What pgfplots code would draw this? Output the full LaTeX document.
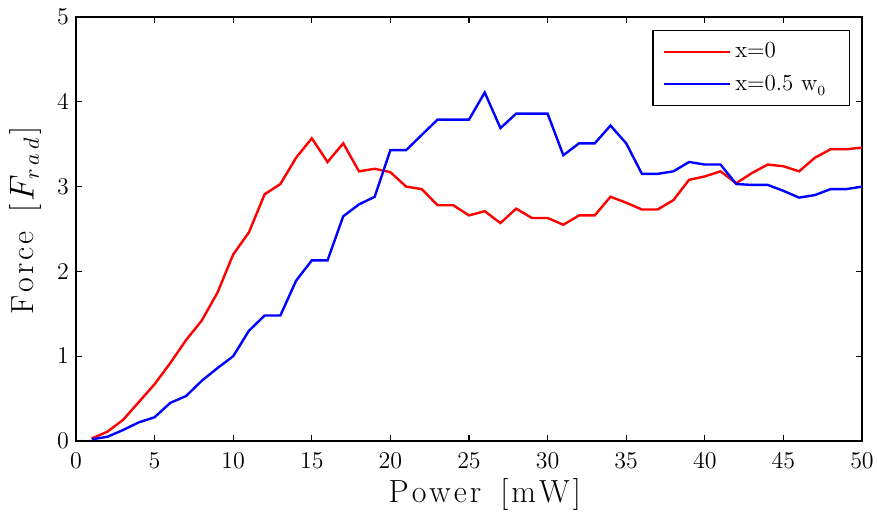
\documentclass[border=0pt]{standalone}
\usepackage{pgfplots}
\pgfplotsset{compat=1.18}

\pgfplotstableread{
P F
1 0.03
2 0.11
3 0.25
4 0.46
5 0.67
6 0.92
7 1.19
8 1.42
9 1.75
10 2.20
11 2.46
12 2.91
13 3.03
14 3.34
15 3.57
16 3.29
17 3.51
18 3.18
19 3.21
20 3.17
21 3.00
22 2.97
23 2.78
24 2.78
25 2.66
26 2.71
27 2.57
28 2.74
29 2.63
30 2.63
31 2.55
32 2.66
33 2.66
34 2.88
35 2.81
36 2.73
37 2.73
38 2.84
39 3.08
40 3.12
41 3.18
42 3.04
43 3.16
44 3.26
45 3.24
46 3.18
47 3.34
48 3.44
49 3.44
50 3.46
}\centre

\pgfplotstableread{
P F
1 0.02
2 0.05
3 0.13
4 0.22
5 0.28
6 0.45
7 0.53
8 0.71
9 0.86
10 1.00
11 1.30
12 1.48
13 1.48
14 1.89
15 2.13
16 2.13
17 2.65
18 2.79
19 2.88
20 3.43
21 3.43
22 3.61
23 3.79
24 3.79
25 3.79
26 4.11
27 3.69
28 3.86
29 3.86
30 3.86
31 3.37
32 3.51
33 3.51
34 3.72
35 3.51
36 3.15
37 3.15
38 3.18
39 3.29
40 3.26
41 3.26
42 3.03
43 3.02
44 3.02
45 2.95
46 2.87
47 2.90
48 2.97
49 2.97
50 3.00
}\offcentre

\begin{document}
\begin{tikzpicture}

\begin{axis}[
    scale only axis,
    width=393pt,
    height=212pt,
    xmin=0, xmax=50,
    ymin=0, ymax=5,
    xtick={0,5,...,50},
    ytick={0,1,...,5},
    axis line style={line width=0.8pt},
    tick style={line width=0.6pt, black},
    major tick length=3pt,
    tick label style={font=\fontsize{12.5}{14}\selectfont},
    xticklabel style={yshift=-2.5pt},
    every axis x label/.style={at={(axis description cs:0.52,-0.127)}, anchor=center},
    every axis y label/.style={at={(axis description cs:-0.064,0.52)}, rotate=90, anchor=center},
    label style={font=\fontsize{16}{19}\selectfont},
    xlabel={P\kern1.5pt o\kern1.5pt w\kern1.5pt e\kern1.5pt r\ \ [\kern1.5pt m\kern1.5pt W\kern1.5pt ]},
    ylabel={F\kern1.5pt o\kern1.5pt r\kern1.5pt c\kern1.5pt e\ \ [\kern1.5pt$F_{r\,a\,d}$\kern1.5pt ]},
    legend style={at={(1,1)}, anchor=north east, xshift=-6pt, yshift=-6.5pt,
        draw=black, line width=0.7pt, font=\fontsize{11.5}{13}\selectfont,
        inner xsep=5pt, inner ysep=4pt, row sep=3pt},
    legend cell align=left,
    legend image code/.code={\draw[#1, line width=1.2pt] (0pt,0pt) -- (33pt,0pt);},
]

\addplot[red, line width=1.2pt] table[x=P, y=F] {\centre};
\addlegendentry{\makebox[50pt][l]{x=0}}

\addplot[blue, line width=1.2pt] table[x=P, y=F] {\offcentre};
\addlegendentry{\makebox[50pt][l]{x=0.5 w$_{\raisebox{-1pt}{\scriptsize 0}}$}}

\end{axis}

\pgfresetboundingbox
\path ([xshift=-38pt,yshift=-36pt]current axis.south west) rectangle ([xshift=7.5pt,yshift=8.5pt]current axis.north east);

\end{tikzpicture}
\end{document}
